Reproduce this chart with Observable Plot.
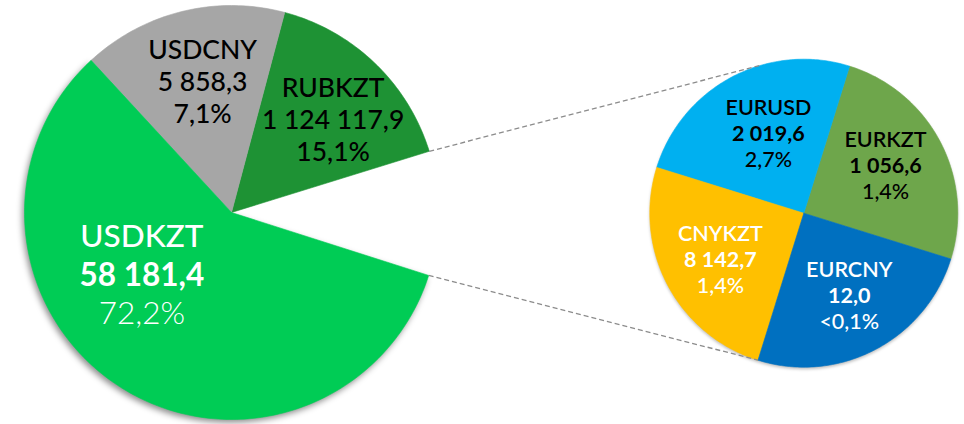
<!DOCTYPE html>
<html><head><meta charset="utf-8">
<script src="https://cdn.jsdelivr.net/npm/d3@7"></script>
<script src="https://cdn.jsdelivr.net/npm/@observablehq/plot@0.6"></script>
<style>body{margin:0;background:#fff;} #chart{width:964px;height:424px;}</style>
</head><body><div id="chart"></div>
<script>
// ---------- data ----------
// main pie, listed counter-clockwise starting after the "other" gap
const mainNames = ["RUBKZT", "USDCNY", "USDKZT"];
const mainValues = ["1 124 117,9", "5 858,3", "58 181,4"];
const mainPercents = ["15,1%", "7,1%", "72,2%"];
const mainShares = [57.9, 57.6, 209.6];   // arc sizes as drawn (degrees)
const otherShare = 34.9;                   // exploded "other" wedge (degrees)
// secondary pie, counter-clockwise
const subNames = ["EURKZT", "EURUSD", "CNYKZT", "EURCNY"];
const subValues = ["1 056,6", "2 019,6", "8 142,7", "12,0"];
const subPercents = ["1,4%", "2,7%", "1,4%", "<0,1%"];
const subShares = [1, 1, 1, 1];            // drawn as equal quarters

// ---------- styles / layout ----------
const mainColors = ["#1e9234", "#a6a6a6", "#00cc55"];
const subColors = ["#6ea64b", "#00b0f0", "#ffc000", "#0070c0"];
const mainTextColors = ["#000", "#000", "#fff"];
const subTextColors = ["#000", "#000", "#fff", "#fff"];
const W = 964, H = 424;
const big = {cx: 231, cy: 212, r: 207, start: -17.7};
const small = {cx: 803.3, cy: 212.7, r: 154, start: -17.3};
const mainLabelNudge = [[-3.9, 0.663], [-1.4, 0.645], [-22.3, 0.53]];   // [deg, radius fraction]
const subLabelNudge = [[2.5, 0.614], [-3.7, 0.565], [1.4, 0.62], [0.9, 0.616]];
const connectorAngles = [106, -107.3];
const rad = Math.PI / 180;

function pt(p, ang, rr) {
  return {x: p.cx + rr * Math.cos(ang * rad), y: p.cy - rr * Math.sin(ang * rad)};
}
function layout(p, shares, lead) {
  const total = d3.sum(shares) + lead;
  let a = p.start + lead / total * 360;
  return shares.map((s, i) => {
    const a0 = a, a1 = a + s / total * 360; a = a1;
    return {i, a0, a1, mid: (a0 + a1) / 2};
  });
}
function polygons(p, sl, key, colors) {
  const out = [];
  for (const s of sl) {
    const n = Math.max(2, Math.ceil(s.a1 - s.a0));
    out.push({...pt(p, 0, 0), k: key[s.i], c: colors[s.i]});
    for (let j = 0; j <= n; j++) out.push({...pt(p, s.a0 + (s.a1 - s.a0) * j / n, p.r), k: key[s.i], c: colors[s.i]});
    out.push({...pt(p, 0, 0), k: key[s.i], c: colors[s.i]});
  }
  return out;
}

const mainSl = layout(big, mainShares, otherShare);
const subSl = layout(small, subShares, 0);
const mainPoly = polygons(big, mainSl, mainNames, mainColors);
const subPoly = polygons(small, subSl, subNames, subColors);
const shadowPoly = mainPoly.filter(d => d.k === "USDKZT");

const mainLabels = mainSl.map(s => {
  const [da, f] = mainLabelNudge[s.i];
  return {...pt(big, s.mid + da, big.r * f), name: mainNames[s.i], value: mainValues[s.i], pct: mainPercents[s.i], tc: mainTextColors[s.i]};
});
const subLabels = subSl.map(s => {
  const [da, f] = subLabelNudge[s.i];
  return {...pt(small, s.mid + da, small.r * f), name: subNames[s.i], value: subValues[s.i], pct: subPercents[s.i], tc: subTextColors[s.i]};
});

const gapTop = pt(big, big.start + otherShare, big.r);
const gapBot = pt(big, big.start, big.r);
const c1 = pt(small, connectorAngles[0], small.r);
const c2 = pt(small, connectorAngles[1], small.r);
const connectors = [
  {x1: gapTop.x, y1: gapTop.y, x2: c1.x, y2: c1.y},
  {x1: gapBot.x, y1: gapBot.y, x2: c2.x, y2: c2.y}
];

const FONT = "Lato, 'Noto Sans', sans-serif";
function labelMarks(data, size, weights, spacing) {
  const fields = ["name", "value", "pct"];
  return fields.map((f, k) => Plot.text(data, {
    x: "x", y: "y", text: f, fill: "tc", fontSize: size, fontWeight: weights[k],
    fontFamily: FONT, dy: (k - 1) * spacing, textAnchor: "middle"
  }));
}

const minorMain = mainLabels.filter(d => d.name !== "USDKZT");
const majorMain = mainLabels.filter(d => d.name === "USDKZT");

const chart = Plot.plot({
  width: W, height: H, margin: 0,
  x: {domain: [0, W], range: [0, W], axis: null},
  y: {domain: [0, H], range: [0, H], axis: null},
  color: {type: "identity"},
  style: {background: "#fff"},
  marks: [
    Plot.line(shadowPoly, {x: "x", y: "y", z: "k", fill: "#000", fillOpacity: 0.45, stroke: "none", dx: -2, dy: 3}),
    Plot.line(subPoly, {x: "x", y: "y", z: "k", fill: "#000", fillOpacity: 0.25, stroke: "none", dy: 2}),
    Plot.line(mainPoly, {x: "x", y: "y", z: "k", fill: "c", stroke: "c", strokeWidth: 0.6}),
    Plot.line(subPoly, {x: "x", y: "y", z: "k", fill: "c", stroke: "c", strokeWidth: 0.6}),
    Plot.link(connectors, {x1: "x1", y1: "y1", x2: "x2", y2: "y2", stroke: "#8c8c8c", strokeWidth: 1.3, strokeDasharray: "5,3"}),
    ...labelMarks(minorMain, 26.5, [500, 500, 500], 32),
    ...labelMarks(majorMain, 31.5, [500, 700, 300], 38.5),
    ...labelMarks(subLabels, 21.5, [600, 700, 500], 26)
  ]
});

const sel = d3.select(chart);
sel.insert("defs", ":first-child").html(
  '<filter id="blurA" x="-10%" y="-10%" width="120%" height="120%"><feGaussianBlur stdDeviation="3"/></filter>' +
  '<filter id="blurB" x="-10%" y="-10%" width="120%" height="120%"><feGaussianBlur stdDeviation="1.5"/></filter>'
);
const lines = sel.selectAll('g[aria-label="line"]').nodes();
lines[0].setAttribute("filter", "url(#blurA)");
lines[1].setAttribute("filter", "url(#blurB)");
document.getElementById("chart").appendChild(chart);
</script>
</body></html>
